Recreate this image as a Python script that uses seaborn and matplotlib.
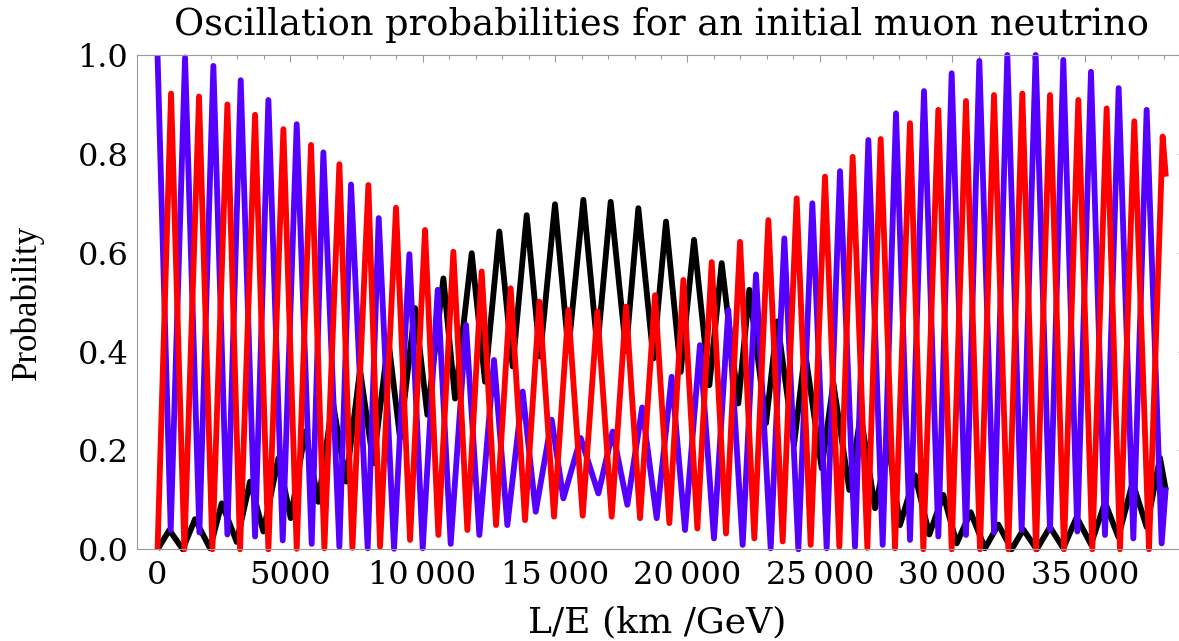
"""Oscillation probabilities for an initial muon neutrino (redrawn from a reference picture)."""

import matplotlib

matplotlib.use("Agg")
import matplotlib.pyplot as plt
import pandas as pd
import seaborn as sns
from matplotlib.ticker import FixedLocator, MultipleLocator

# Peaks and troughs: L/E in km/GeV, probability.
E_LE = [0, 447, 950, 1415, 1982, 2422, 2988, 3491, 3994, 4560, 5026, 5567, 6070,
        6611, 7114, 7642, 8145, 8711, 9151, 9717, 10183, 10787, 11227, 11856,
        12359, 12900, 13403, 13931, 14434, 15000, 15504, 16070, 16598, 17101,
        17680, 18145, 18711, 19189, 19743, 20246, 20824, 21290, 21918, 22334,
        22963, 23390, 24019, 24435, 25064, 25504, 26108, 26535, 27076, 27579,
        28019, 28585, 29126, 29655, 30158, 30686, 31227, 31730, 32233, 32674,
        33177, 33680, 34183, 34686, 35227, 35755, 36259, 36799, 37328, 37831, 38050]
E_P = [0.0, 0.039, 0.0, 0.061, 0.002, 0.093, 0.015, 0.137, 0.036, 0.184, 0.063,
       0.238, 0.096, 0.299, 0.137, 0.363, 0.174, 0.423, 0.225, 0.488, 0.272,
       0.548, 0.305, 0.599, 0.339, 0.643, 0.370, 0.676, 0.390, 0.698, 0.403,
       0.707, 0.407, 0.703, 0.401, 0.690, 0.386, 0.663, 0.359, 0.626, 0.332,
       0.579, 0.295, 0.525, 0.255, 0.461, 0.211, 0.400, 0.164, 0.336, 0.120,
       0.272, 0.083, 0.214, 0.049, 0.150, 0.030, 0.110, 0.012, 0.075, 0.002,
       0.050, 0.0, 0.040, 0.0, 0.045, 0.002, 0.065, 0.010, 0.095, 0.025, 0.135,
       0.045, 0.185, 0.120]

MU_LE = [0, 497, 1038, 1579, 2107, 2636, 3139, 3680, 4183, 4724, 5252, 5818,
         6258, 6862, 7302, 7931, 8347, 8925, 9504, 10007, 10573, 11063, 11642,
         12145, 12698, 13202, 13780, 14271, 14875, 15315, 15969, 16636, 17177,
         17730, 18290, 18837, 19403, 19906, 20470, 20999, 21541, 22082, 22585,
         23139, 23655, 24183, 24711, 25252, 25755, 26321, 26825, 27366, 27869,
         28397, 28925, 29466, 29969, 30510, 31013, 31567, 32070, 32611, 33139,
         33680, 34183, 34711, 35227, 35755, 36271, 36825, 37328, 37894, 38050]
MU_P = [1.0, 0.039, 0.995, 0.034, 0.978, 0.030, 0.949, 0.026, 0.909, 0.018, 0.860,
        0.011, 0.803, 0.005, 0.738, 0.002, 0.670, 0.001, 0.597, 0.002, 0.525,
        0.011, 0.454, 0.029, 0.383, 0.049, 0.319, 0.076, 0.262, 0.103, 0.225,
        0.113, 0.238, 0.090, 0.287, 0.063, 0.349, 0.039, 0.413, 0.022, 0.484,
        0.009, 0.556, 0.002, 0.629, 0.0, 0.700, 0.002, 0.765, 0.005, 0.828,
        0.009, 0.882, 0.019, 0.927, 0.026, 0.963, 0.029, 0.988, 0.034, 1.0,
        0.039, 1.0, 0.039, 0.990, 0.036, 0.966, 0.029, 0.933, 0.022, 0.889,
        0.012, 0.125]

TAU_LE = [0, 510, 1013, 1566, 2070, 2636, 3114, 3680, 4183, 4749, 5252, 5793,
          6296, 6862, 7353, 7957, 8397, 9000, 9529, 10095, 10598, 11164, 11692,
          12233, 12774, 13327, 13868, 14409, 14963, 15504, 16045, 16598, 17139,
          17680, 18208, 18774, 19315, 19843, 20372, 20913, 21453, 21982, 22522,
          23051, 23592, 24120, 24648, 25189, 25730, 26233, 26787, 27290, 27831,
          28397, 28900, 29466, 29969, 30510, 31038, 31567, 32107, 32636, 33152,
          33680, 34208, 34749, 35277, 35818, 36321, 36862, 37416, 37932, 38050]
TAU_P = [0.0, 0.922, 0.0, 0.916, 0.0, 0.900, 0.0, 0.879, 0.0, 0.850, 0.001, 0.818,
         0.002, 0.779, 0.003, 0.737, 0.005, 0.691, 0.019, 0.646, 0.029, 0.602,
         0.039, 0.562, 0.049, 0.528, 0.059, 0.501, 0.066, 0.484, 0.068, 0.481,
         0.066, 0.491, 0.063, 0.514, 0.053, 0.545, 0.042, 0.581, 0.032, 0.622,
         0.022, 0.666, 0.016, 0.710, 0.009, 0.754, 0.005, 0.794, 0.003, 0.830,
         0.002, 0.862, 0.0, 0.889, 0.0, 0.907, 0.0, 0.919, 0.0, 0.922, 0.0,
         0.919, 0.0, 0.909, 0.0, 0.892, 0.0, 0.866, 0.0, 0.835, 0.754]

SERIES = ["nu_e", "nu_mu", "nu_tau"]
COLORS = {"nu_e": "#000000", "nu_mu": "#5500ff", "nu_tau": "#ff0000"}

X_TICKS = [0, 5000, 10000, 15000, 20000, 25000, 30000, 35000]
X_TICK_LABELS = ["0", "5000", "10\u2009000", "15\u2009000", "20\u2009000",
                 "25\u2009000", "30\u2009000", "35\u2009000"]
Y_TICKS = [0.0, 0.2, 0.4, 0.6, 0.8, 1.0]
Y_TICK_LABELS = ["0.0", "0.2", "0.4", "0.6", "0.8", "1.0"]

FRAME = "#9a9a9a"


def build_frame() -> pd.DataFrame:
    parts = []
    for name, xs, ys in (("nu_e", E_LE, E_P), ("nu_mu", MU_LE, MU_P), ("nu_tau", TAU_LE, TAU_P)):
        parts.append(pd.DataFrame({"LE": xs, "P": ys, "series": name}))
    return pd.concat(parts, ignore_index=True)


def main() -> None:
    sns.set_theme(style="white", rc={"text.color": "black", "axes.labelcolor": "black"})
    plt.rcParams["font.family"] = ["DejaVu Serif"]

    data = build_frame()

    fig = plt.figure(figsize=(11.79, 6.41), dpi=100)
    ax = fig.add_axes([137.4 / 1179, 91.7 / 641, 1047.2 / 1179, 494.3 / 641])

    sns.lineplot(data=data, x="LE", y="P", hue="series", hue_order=SERIES,
                 palette=COLORS, estimator=None, sort=False, linewidth=4.2,
                 legend=False, ax=ax)
    for line in ax.lines:
        line.set_solid_joinstyle("round")
        line.set_solid_capstyle("butt")
        line.set_clip_on(False)

    ax.set_xlim(-760, 38760)
    ax.set_ylim(0, 1)

    ax.xaxis.set_major_locator(FixedLocator(X_TICKS))
    ax.set_xticklabels(X_TICK_LABELS)
    ax.xaxis.set_minor_locator(MultipleLocator(1000))
    ax.yaxis.set_major_locator(FixedLocator(Y_TICKS))
    ax.set_yticklabels(Y_TICK_LABELS)
    ax.yaxis.set_minor_locator(MultipleLocator(0.05))

    ax.tick_params(axis="both", which="both", direction="in", top=True, right=True,
                   color=FRAME, labelcolor="black", width=0.8)
    ax.tick_params(axis="both", which="major", length=5.0, labelsize=23)
    ax.tick_params(axis="both", which="minor", length=2.9)
    ax.tick_params(axis="x", which="major", pad=8)
    ax.tick_params(axis="y", which="major", pad=6.5)

    for spine in ax.spines.values():
        spine.set_color(FRAME)
        spine.set_linewidth(0.8)

    ax.set_title("Oscillation probabilities for an initial muon neutrino",
                 fontsize=26.5, pad=14.4, color="black")
    ax.set_xlabel("L/E (km /GeV)", fontsize=26, va="baseline")
    ax.xaxis.set_label_coords(0.496, -0.1673)
    ax.set_ylabel("Probability", fontsize=25, family=["Liberation Serif", "DejaVu Serif"],
                  va="center")
    ax.yaxis.set_label_coords(-0.1054, 0.5)

    fig.savefig("out.png", dpi=100)
    plt.close(fig)


if __name__ == "__main__":
    main()
